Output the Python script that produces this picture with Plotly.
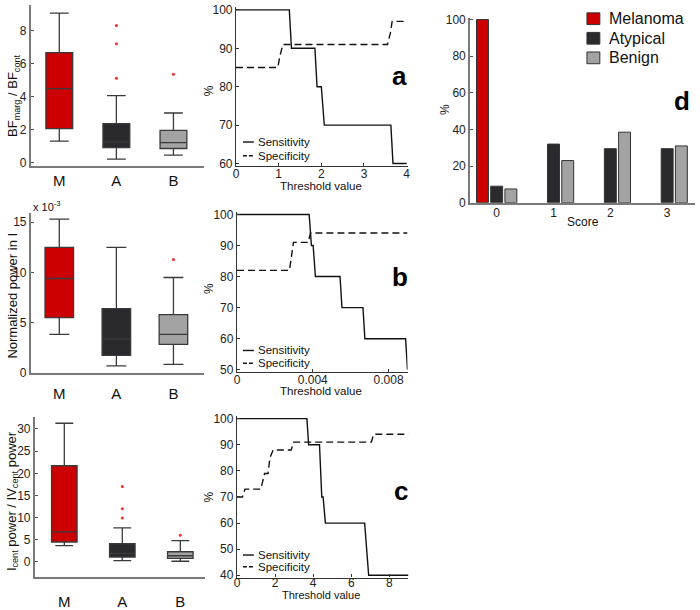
import plotly.graph_objects as go

W, H = 700, 610

# ---------------- data ----------------
groups = ["M", "A", "B"]
box_colors = {"M": "#cc0000", "A": "#2a2a2e", "B": "#a3a3a3"}

# panel a box: BF_marg / BF_cont
bf_q1 = [2.05, 0.9, 0.85]
bf_med = [4.48, 1.25, 1.2]
bf_q3 = [6.65, 2.35, 1.95]
bf_lo = [1.3, 0.2, 0.45]
bf_hi = [9.05, 4.05, 3.0]
bf_out_A = [5.1, 7.2, 8.3]
bf_out_B = [5.35]

# panel b box: normalized power in I (x 1e-3)
np_q1 = [5.5, 1.75, 2.85]
np_med = [9.4, 3.4, 3.85]
np_q3 = [12.5, 6.4, 5.8]
np_lo = [3.85, 0.7, 0.85]
np_hi = [15.3, 12.5, 9.5]
np_out_B = [11.3]

# panel c box: I_cent power / IV_cent power
ic_q1 = [4.5, 1.1, 0.8]
ic_med = [6.8, 1.9, 1.4]
ic_q3 = [21.7, 4.1, 2.3]
ic_lo = [3.7, 0.3, 0.15]
ic_hi = [31.3, 7.7, 4.8]
ic_out_A = [9.9, 12.0, 17.0]
ic_out_B = [6.0]

# threshold curves
a_sens_x = [0, 1.25, 1.3, 1.85, 1.9, 2.0, 2.07, 3.63, 3.68, 4.0]
a_sens_y = [100, 100, 90, 90, 80, 80, 70, 70, 60, 60]
a_spec_x = [0, 0.98, 1.03, 1.1, 3.55, 3.62, 3.66, 4.0]
a_spec_y = [85, 85, 88, 91, 91, 94, 97, 97]

b_sens_x = [0, 0.00381, 0.00393, 0.00402, 0.00414, 0.00544, 0.00554, 0.00665, 0.00675, 0.0089, 0.009]
b_sens_y = [100, 100, 90, 90, 80, 80, 70, 70, 60, 60, 50]
b_spec_x = [0, 0.00277, 0.00298, 0.00376, 0.00388, 0.009]
b_spec_y = [82, 82, 91, 91, 94, 94]

c_sens_x = [0, 3.67, 3.76, 4.33, 4.45, 4.52, 4.64, 6.70, 6.91, 9.0]
c_sens_y = [100, 100, 90, 90, 70, 70, 60, 60, 40, 40]
c_spec_x = [0, 0.29, 0.42, 1.25, 1.45, 1.63, 1.73, 1.9, 2.84, 2.98, 7.05, 7.17, 9.0]
c_spec_y = [70, 70, 73, 73, 79, 79, 85, 88, 88, 91, 91, 94, 94]

# panel d bars
scores = ["0", "1", "2", "3"]
bar_names = ["Melanoma", "Atypical", "Benign"]
bar_melanoma = [100, 0, 0, 0]
bar_atypical = [9, 32, 29.5, 29.5]
bar_benign = [7.5, 23, 38.5, 31]
bar_colors = ["#cc0000", "#2a2a2e", "#a3a3a3"]

# ---------------- helpers ----------------
def dx(p0, p1):
    return [p0 / W, p1 / W]

def dy(top, bottom):
    return [1 - bottom / H, 1 - top / H]

def px(p):
    return p / W

def py(p):
    return 1 - p / H

FONT = "Liberation Sans, Arial, sans-serif"

fig = go.Figure()

def add_boxes(xa, ya, q1, med, q3, lo, hi, width):
    for i, g in enumerate(groups):
        fig.add_trace(go.Box(
            x=[g], q1=[q1[i]], median=[med[i]], q3=[q3[i]],
            lowerfence=[lo[i]], upperfence=[hi[i]],
            fillcolor=box_colors[g], line=dict(color="#3a3a3a", width=1.3),
            width=width, whiskerwidth=0.7, boxpoints=False,
            xaxis=xa, yaxis=ya, showlegend=False, hoverinfo="skip"))

def add_out(xa, ya, g, vals):
    fig.add_trace(go.Scatter(
        x=[g] * len(vals), y=vals, mode="markers",
        marker=dict(color="#ff2a2a", size=3, symbol="circle"),
        xaxis=xa, yaxis=ya, showlegend=False, hoverinfo="skip"))

add_boxes("x", "y", bf_q1, bf_med, bf_q3, bf_lo, bf_hi, 0.47)
add_out("x", "y", "A", bf_out_A)
add_out("x", "y", "B", bf_out_B)

add_boxes("x4", "y4", np_q1, np_med, np_q3, np_lo, np_hi, 0.5)
add_out("x4", "y4", "B", np_out_B)

add_boxes("x6", "y6", ic_q1, ic_med, ic_q3, ic_lo, ic_hi, 0.44)
add_out("x6", "y6", "A", ic_out_A)
add_out("x6", "y6", "B", ic_out_B)

def add_curves(xa, ya, sx, sy, cx, cy):
    fig.add_trace(go.Scatter(x=sx, y=sy, mode="lines",
                             line=dict(color="#111111", width=1.4),
                             xaxis=xa, yaxis=ya, showlegend=False, hoverinfo="skip"))
    fig.add_trace(go.Scatter(x=cx, y=cy, mode="lines",
                             line=dict(color="#111111", width=1.4, dash="7px,4px"),
                             xaxis=xa, yaxis=ya, showlegend=False, hoverinfo="skip"))

add_curves("x2", "y2", a_sens_x, a_sens_y, a_spec_x, a_spec_y)
add_curves("x5", "y5", b_sens_x, b_sens_y, b_spec_x, b_spec_y)
add_curves("x7", "y7", c_sens_x, c_sens_y, c_spec_x, c_spec_y)

for name, vals, col in zip(bar_names, [bar_melanoma, bar_atypical, bar_benign], bar_colors):
    fig.add_trace(go.Bar(x=scores, y=vals, name=name,
                         marker=dict(color=col, line=dict(color="#333333",
                                                          width=[1 if v > 0 else 0 for v in vals])),
                         xaxis="x3", yaxis="y3", hoverinfo="skip", showlegend=False))

# ---------------- axes ----------------
tickfont = dict(family=FONT, size=12, color="#222222")

def box_axes(n, xdom, ydom, xrange, yrange, tickvals, standoff):
    xa = dict(domain=xdom, anchor="y" if n == 1 else f"y{n}", range=xrange,
              type="category", categoryorder="array", categoryarray=groups,
              showline=True, linecolor="#7a7a7a", linewidth=1.6, ticks="",
              showgrid=False, zeroline=False,
              tickfont=dict(family=FONT, size=15, color="#111111"),
              ticklabelstandoff=standoff)
    ya = dict(domain=ydom, anchor="x" if n == 1 else f"x{n}", range=yrange,
              showline=True, linecolor="#7a7a7a", linewidth=1.6, ticks="inside",
              ticklen=3, tickcolor="#555555", tickvals=tickvals,
              showgrid=False, zeroline=False, tickfont=tickfont)
    return xa, ya

def line_axes(n, xdom, ydom, xrange, yrange, xt, xtt, yt, standoff):
    xa = dict(domain=xdom, anchor=f"y{n}", range=xrange, tickvals=xt, ticktext=xtt,
              showline=True, linecolor="#333333", linewidth=1.2, ticks="inside",
              ticklen=3, tickcolor="#333333", showgrid=False, zeroline=False,
              tickfont=tickfont, ticklabelstandoff=standoff)
    ya = dict(domain=ydom, anchor=f"x{n}", range=yrange, tickvals=yt,
              showline=True, linecolor="#333333", linewidth=1.2, ticks="inside",
              ticklen=3, tickcolor="#333333", showgrid=False, zeroline=False,
              tickfont=tickfont)
    return xa, ya

x1, y1 = box_axes(1, dx(28, 203), dy(0, 165), [-0.5, 2.54], [-0.24, 9.54], [0, 2, 4, 6, 8], 0)
x4, y4 = box_axes(4, dx(28, 203), dy(213, 376), [-0.5, 2.54], [0, 15.87], [0, 5, 10, 15], 6)
x6, y6 = box_axes(6, dx(32, 204), dy(421, 584), [-0.51, 2.43], [-3.3, 32.7], [0, 5, 10, 15, 20, 25, 30], 11)

x2, y2 = line_axes(2, dx(235, 408), dy(2, 165), [0, 4.02], [59.24, 100.76],
                   [0, 1, 2, 3, 4], ["0", "1", "2", "3", "4"], [60, 70, 80, 90, 100], -4)
x5, y5 = line_axes(5, dx(236, 408), dy(212, 375), [0, 0.009], [49.27, 100.63],
                   [0, 0.004, 0.008], ["0", "0.004", "0.008"], [50, 60, 70, 80, 90, 100], -4)
x7, y7 = line_axes(7, dx(236, 409), dy(420, 585), [0, 9], [39.14, 101.0],
                   [0, 2, 4, 6, 8], ["0", "2", "4", "6", "8"], [40, 50, 60, 70, 80, 90, 100], -6)

x3 = dict(domain=dx(471, 698), anchor="y3", range=[-0.47, 3.49], type="category",
          showline=True, linecolor="#7a7a7a", linewidth=1.6, ticks="", showgrid=False,
          zeroline=False, tickfont=tickfont, ticklabelstandoff=-2)
y3 = dict(domain=dy(13, 202), anchor="x3", range=[0, 101], tickvals=[0, 20, 40, 60, 80, 100],
          showline=True, linecolor="#7a7a7a", linewidth=1.6, ticks="inside", ticklen=3,
          tickcolor="#555555", showgrid=False, zeroline=False, tickfont=tickfont)

# ---------------- annotations ----------------
ann = []

def text(x, y, t, size=12, angle=0, xanchor="center", bold=False, color="#111111"):
    ann.append(dict(x=px(x), y=py(y), xref="paper", yref="paper", text=("<b>%s</b>" % t) if bold else t,
                    showarrow=False, textangle=angle, xanchor=xanchor, yanchor="middle",
                    font=dict(family=FONT, size=size, color=color)))

# box y titles
text(10, 93, "BF<sub>marg</sub> / BF<sub>cont</sub>", 13, -90)
text(10, 297, "Normalized power in I", 13, -90)
text(9, 507, "I<sub>cent</sub> power / IV<sub>cent</sub> power", 13, -90)
text(28, 205, "x 10<sup>-3</sup>", 11, 0, "left")

# line panels
for (yp, yt, fs) in [(88, 185, 11.5), (290, 394, 11.5), (503, 602.5, 11)]:
    text(208, yp, "%", 12, -90)
    text(321, yt, "Threshold value", fs)
text(400, 73, "a", 26, bold=True, color="#000000")
text(400, 278, "b", 26, bold=True, color="#000000")
text(401, 497, "c", 26, bold=True, color="#000000")

# panel d
text(446, 107, "%", 12, -90)
text(585, 222, "Score", 12)
text(685, 98, "d", 26, bold=True, color="#000000")

shapes = []
# legend of panel d
for i, (name, col) in enumerate(zip(bar_names, bar_colors)):
    cy = 14 + 20 * i
    shapes.append(dict(type="rect", xref="paper", yref="paper", x0=px(589), x1=px(602),
                       y0=py(cy + 6), y1=py(cy - 6), fillcolor=col,
                       line=dict(color="#333333", width=1)))
    text(609, cy, name, 16, 0, "left")

# legends of the threshold panels
for (r1, r2) in [(140, 154), (353, 366), (562, 574)]:
    shapes.append(dict(type="line", xref="paper", yref="paper", x0=px(242), x1=px(253),
                       y0=py(r1), y1=py(r1), line=dict(color="#111111", width=1.4)))
    shapes.append(dict(type="line", xref="paper", yref="paper", x0=px(242), x1=px(253),
                       y0=py(r2), y1=py(r2), line=dict(color="#111111", width=1.4, dash="4px,2px")))
    text(255, r1, "Sensitivity", 11.5, 0, "left")
    text(255, r2, "Specificity", 11.5, 0, "left")

fig.update_layout(
    width=W, height=H, margin=dict(l=0, r=0, t=0, b=0),
    paper_bgcolor="white", plot_bgcolor="white",
    font=dict(family=FONT, size=12, color="#111111"),
    xaxis=x1, yaxis=y1, xaxis2=x2, yaxis2=y2, xaxis3=x3, yaxis3=y3,
    xaxis4=x4, yaxis4=y4, xaxis5=x5, yaxis5=y5, xaxis6=x6, yaxis6=y6,
    xaxis7=x7, yaxis7=y7,
    boxmode="overlay", barmode="group", bargap=0.25, bargroupgap=0.16,
    showlegend=False,
    annotations=ann, shapes=shapes,
)

fig.write_html(
    "out.html", config={"displayModeBar": False},
    post_script=("document.documentElement.style.margin='0';"
                 "document.documentElement.style.overflow='hidden';"
                 "document.body.style.margin='0';"
                 "document.body.style.overflow='hidden';"))
